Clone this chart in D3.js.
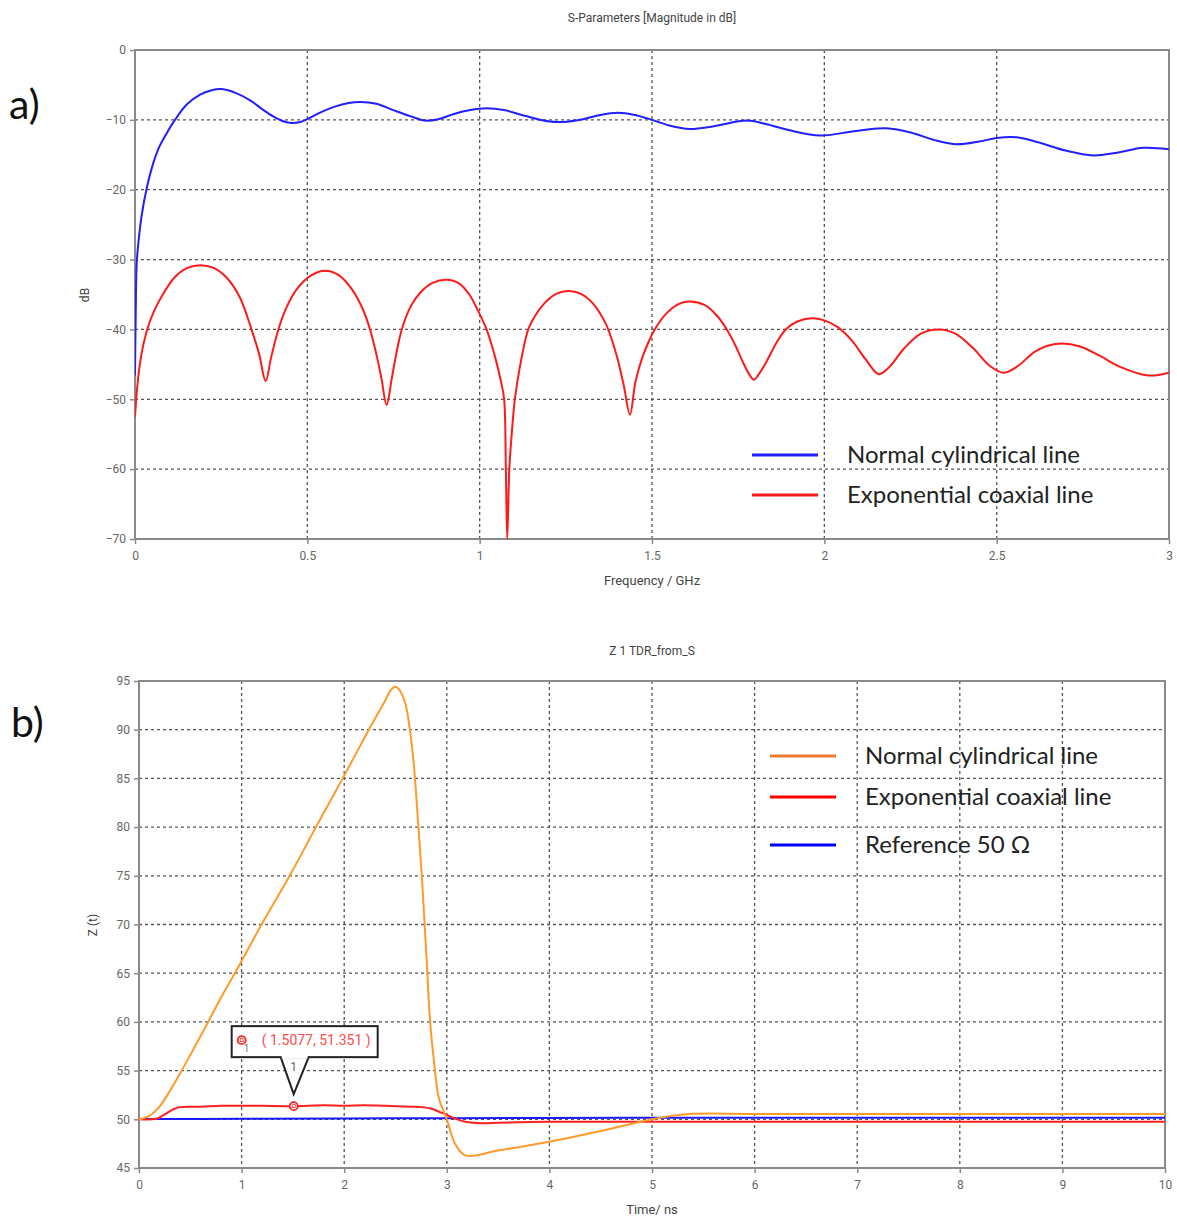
<!DOCTYPE html>
<html>
<head>
<meta charset="utf-8">
<script src="https://cdn.jsdelivr.net/npm/d3@7/dist/d3.min.js"></script>
<style>
  html, body { margin: 0; padding: 0; background: #fff; }
  svg { display: block; }
</style>
</head>
<body>
<svg id="chart" width="1177" height="1218"></svg>
<script>
// ---------------- Data: chart a) S-parameters ----------------
const sFreqTicks = [0, 0.5, 1, 1.5, 2, 2.5, 3];
const sFreqTickLabels = ["0", "0.5", "1", "1.5", "2", "2.5", "3"];
const sDbTicks = [0, -10, -20, -30, -40, -50, -60, -70];

const normalFreq = [0, 0.002, 0.005, 0.01, 0.019, 0.034, 0.053, 0.07, 0.092, 0.116, 0.15, 0.189, 0.22, 0.251, 0.295, 0.334, 0.37, 0.401, 0.43, 0.455, 0.48, 0.5, 0.54, 0.58, 0.62, 0.653, 0.70, 0.749, 0.8, 0.841, 0.88, 0.923, 0.972, 1.02, 1.07, 1.13, 1.204, 1.242, 1.3, 1.35, 1.4, 1.45, 1.5, 1.55, 1.61, 1.68, 1.775, 1.83, 1.9, 1.987, 2.05, 2.12, 2.18, 2.25, 2.32, 2.384, 2.45, 2.5, 2.558, 2.62, 2.7, 2.78, 2.85, 2.925, 3.0];
const normalDb = [-46.6, -38, -30.5, -27.5, -23.8, -19.8, -16.2, -13.9, -11.9, -10.0, -7.8, -6.4, -5.8, -5.6, -6.2, -7.2, -8.5, -9.5, -10.2, -10.45, -10.3, -9.9, -8.9, -8.1, -7.6, -7.45, -7.7, -8.6, -9.5, -10.1, -9.9, -9.2, -8.6, -8.35, -8.6, -9.4, -10.25, -10.3, -9.9, -9.3, -9.0, -9.3, -10.0, -10.8, -11.3, -10.9, -10.1, -10.6, -11.5, -12.25, -11.9, -11.4, -11.2, -11.8, -12.9, -13.5, -13.1, -12.6, -12.5, -13.2, -14.4, -15.1, -14.7, -14.0, -14.2];

const expFreq = [0, 0.006, 0.014, 0.025, 0.04, 0.057, 0.076, 0.114, 0.152, 0.19, 0.228, 0.266, 0.304, 0.338, 0.36, 0.379, 0.395, 0.416, 0.44, 0.47, 0.51, 0.551, 0.59, 0.63, 0.66, 0.682, 0.70, 0.715, 0.730, 0.745, 0.758, 0.774, 0.80, 0.83, 0.865, 0.904, 0.94, 0.97, 0.995, 1.02, 1.045, 1.062, 1.071, 1.076, 1.080, 1.086, 1.093, 1.102, 1.118, 1.139, 1.151, 1.187, 1.222, 1.258, 1.294, 1.329, 1.365, 1.383, 1.40, 1.418, 1.436, 1.452, 1.472, 1.49, 1.508, 1.544, 1.58, 1.61, 1.652, 1.688, 1.717, 1.742, 1.765, 1.783, 1.796, 1.81, 1.83, 1.86, 1.888, 1.92, 1.963, 2.0, 2.04, 2.08, 2.12, 2.158, 2.19, 2.23, 2.28, 2.333, 2.38, 2.43, 2.48, 2.52, 2.56, 2.61, 2.65, 2.69, 2.74, 2.8, 2.86, 2.94, 3.0];
const expDb = [-52.5, -48.5, -45, -42, -39.3, -37.2, -35.4, -32.6, -31.2, -30.8, -31.2, -32.6, -35.4, -40, -43.5, -47.4, -44, -40, -36.8, -34.2, -32.3, -31.6, -32.2, -34.3, -37.0, -40, -43.5, -47, -50.8, -47, -43.5, -40, -36.7, -34.6, -33.3, -32.9, -33.4, -35.0, -37.3, -40, -44, -47.5, -50, -60, -70, -60, -55, -50, -45, -40.3, -38.9, -36.3, -34.9, -34.5, -34.9, -36.3, -39.1, -41.4, -44.2, -48, -52.2, -47.5, -44, -41.8, -40, -37.6, -36.3, -36.0, -36.5, -38.0, -40, -42.3, -44.8, -46.5, -47.2, -46.4, -44.8, -42.0, -40, -38.9, -38.4, -38.7, -39.7, -41.6, -44.3, -46.4, -45.3, -42.8, -40.6, -40, -40.6, -42.6, -45.2, -46.2, -45.3, -43.2, -42.3, -42, -42.4, -43.8, -45.4, -46.6, -46.2];

// ---------------- Data: chart b) TDR impedance ----------------
const tTicks = [0, 1, 2, 3, 4, 5, 6, 7, 8, 9, 10];
const zTicks = [45, 50, 55, 60, 65, 70, 75, 80, 85, 90, 95];

const normalTime = [0, 0.1, 0.2, 0.3, 0.4, 0.5, 0.654, 0.8, 0.945, 1.2, 1.463, 1.72, 1.98, 2.24, 2.40, 2.45, 2.5, 2.55, 2.596, 2.64, 2.677, 2.72, 2.757, 2.8, 2.839, 2.88, 2.92, 3.0, 3.08, 3.18, 3.5, 4.0, 4.5, 5.0, 5.16, 5.37, 6, 7, 8, 9, 10];
const normalZ = [50, 50.35, 51.3, 52.9, 54.7, 56.6, 59.6, 62.5, 65.2, 70.1, 74.9, 79.9, 84.9, 90, 93.0, 94.0, 94.4, 93.9, 92.7, 90, 86.6, 80.5, 74.9, 67, 59.8, 55.5, 52.3, 50, 47.5, 46.3, 46.8, 47.7, 48.8, 50.0, 50.3, 50.55, 50.55, 50.55, 50.55, 50.55, 50.55];

const expTime = [0, 0.17, 0.25, 0.33, 0.395, 0.6, 0.8, 1.0, 1.2, 1.5077, 1.8, 2.0, 2.2, 2.4, 2.66, 2.76, 2.86, 2.93, 3.0, 3.1, 3.18, 3.34, 3.5, 3.73, 4, 6, 8, 10];
const expZ = [50, 50.05, 50.5, 51.0, 51.25, 51.3, 51.4, 51.38, 51.4, 51.351, 51.45, 51.38, 51.45, 51.38, 51.3, 51.25, 51.05, 50.75, 50.45, 50.0, 49.75, 49.6, 49.65, 49.7, 49.75, 49.75, 49.75, 49.75];

const refTime = [0, 1, 2, 3, 4, 5, 6, 7, 8, 9, 10];
const refZ = [50.02, 50.05, 50.08, 50.12, 50.14, 50.15, 50.15, 50.15, 50.15, 50.15, 50.15];

const marker = { t: 1.5077, z: 51.351, label: "( 1.5077, 51.351 )", id: "1" };

const legendA = [
  { name: "Normal cylindrical line", color: "#1f1fff" },
  { name: "Exponential coaxial line", color: "#ff1a1a" }
];
const legendB = [
  { name: "Normal cylindrical line", color: "#ed7d31" },
  { name: "Exponential coaxial line", color: "#ff0000" },
  { name: "Reference 50 \u03A9", color: "#0000ff" }
];

// ---------------- Drawing ----------------
const svg = d3.select("#chart");
const axisColor = "#8a8a8a";
const gridColor = "#555";
const labelColor = "#666";
const tickFont = "Roboto, sans-serif";
const legendFont = "Lato, 'Open Sans', sans-serif";

function drawPanel(cfg) {
  const { left, right, top, bottom, x, y, xTicks, xLabels, yTicks, gridX, gridY, id } = cfg;
  const g = svg.append("g");

  svg.append("clipPath").attr("id", id).append("rect")
    .attr("x", left).attr("y", top).attr("width", right - left).attr("height", bottom - top);

  g.selectAll(".gx").data(gridX).join("line")
    .attr("x1", d => x(d)).attr("x2", d => x(d)).attr("y1", top).attr("y2", bottom)
    .attr("stroke", gridColor).attr("stroke-width", 1.3).attr("stroke-dasharray", "3,3");
  g.selectAll(".gy").data(gridY).join("line")
    .attr("y1", d => y(d)).attr("y2", d => y(d)).attr("x1", left).attr("x2", right)
    .attr("stroke", gridColor).attr("stroke-width", 1.3).attr("stroke-dasharray", "3,3");

  const xAxis = d3.axisBottom(x).tickValues(xTicks).tickSize(5).tickPadding(7)
    .tickFormat((d, i) => xLabels ? xLabels[i] : d);
  const yAxis = d3.axisLeft(y).tickValues(yTicks).tickSize(5).tickPadding(4);
  const gx = g.append("g").attr("transform", `translate(0,${bottom})`).call(xAxis);
  const gy = g.append("g").attr("transform", `translate(${left},0)`).call(yAxis);
  [gx, gy].forEach(a => {
    a.select(".domain").remove();
    a.selectAll(".tick line").attr("stroke", axisColor).attr("stroke-width", 1.5);
    a.selectAll(".tick text").attr("fill", labelColor).style("font-size", "12px")
      .style("font-family", tickFont);
  });

  g.append("rect").attr("x", left).attr("y", top).attr("width", right - left).attr("height", bottom - top)
    .attr("fill", "none").attr("stroke", axisColor).attr("stroke-width", 2);
  return g;
}

// ===== Panel a =====
const A = { left: 135, right: 1169, top: 50, bottom: 539 };
const xA = d3.scaleLinear().domain([0, 3]).range([A.left, A.right]);
const yA = d3.scaleLinear().domain([-70, 0]).range([A.bottom, A.top]);
drawPanel({ ...A, x: xA, y: yA, xTicks: sFreqTicks, xLabels: sFreqTickLabels, yTicks: sDbTicks,
  gridX: [0.5, 1, 1.5, 2, 2.5], gridY: [-10, -20, -30, -40, -50, -60], id: "clipA" });

const lineA = d3.line().x(d => xA(d[0])).y(d => yA(d[1])).curve(d3.curveCatmullRom.alpha(0.5));
const gA = svg.append("g").attr("clip-path", "url(#clipA)");
gA.append("path").datum(d3.zip(expFreq, expDb)).attr("d", lineA)
  .attr("fill", "none").attr("stroke", legendA[1].color).attr("stroke-width", 2);
gA.append("path").datum(d3.zip(normalFreq, normalDb)).attr("d", lineA)
  .attr("fill", "none").attr("stroke", legendA[0].color).attr("stroke-width", 2);

svg.append("text").attr("x", 652).attr("y", 22).attr("text-anchor", "middle")
  .style("font-family", tickFont).style("font-size", "12px").attr("fill", "#444")
  .text("S-Parameters [Magnitude in dB]");
svg.append("text").attr("x", 652).attr("y", 585).attr("text-anchor", "middle")
  .style("font-family", tickFont).style("font-size", "13px").attr("fill", "#444")
  .text("Frequency / GHz");
svg.append("text").attr("transform", "translate(89,295) rotate(-90)").attr("text-anchor", "middle")
  .style("font-family", tickFont).style("font-size", "12px").attr("fill", "#444").text("dB");

legendA.forEach((d, i) => {
  const yy = 455 + i * 40;
  svg.append("line").attr("x1", 752).attr("x2", 818).attr("y1", yy).attr("y2", yy)
    .attr("stroke", d.color).attr("stroke-width", 3);
  svg.append("text").attr("x", 847).attr("y", yy + 8).style("font-family", legendFont)
    .style("font-size", "24px").attr("fill", "#222").text(d.name);
});

svg.append("text").attr("x", 9).attr("y", 119).style("font-family", legendFont)
  .style("font-size", "41px").attr("fill", "#111").text("a)");

// ===== Panel b =====
const B = { left: 139, right: 1165, top: 681, bottom: 1168 };
const xB = d3.scaleLinear().domain([0, 10]).range([B.left, B.right]);
const yB = d3.scaleLinear().domain([45, 95]).range([B.bottom, B.top]);
drawPanel({ ...B, x: xB, y: yB, xTicks: tTicks, xLabels: null, yTicks: zTicks,
  gridX: [1, 2, 3, 4, 5, 6, 7, 8, 9], gridY: [50, 55, 60, 65, 70, 75, 80, 85, 90], id: "clipB" });

const lineB = d3.line().x(d => xB(d[0])).y(d => yB(d[1])).curve(d3.curveCatmullRom.alpha(0.5));
const gB = svg.append("g").attr("clip-path", "url(#clipB)");
gB.append("path").datum(d3.zip(refTime, refZ)).attr("d", lineB)
  .attr("fill", "none").attr("stroke", "#1a1aff").attr("stroke-width", 2);
gB.append("path").datum(d3.zip(expTime, expZ)).attr("d", lineB)
  .attr("fill", "none").attr("stroke", "#ff2020").attr("stroke-width", 2);
gB.append("path").datum(d3.zip(normalTime, normalZ)).attr("d", lineB)
  .attr("fill", "none").attr("stroke", "#ff9a2a").attr("stroke-width", 2);

svg.append("text").attr("x", 652).attr("y", 655).attr("text-anchor", "middle")
  .style("font-family", tickFont).style("font-size", "12px").attr("fill", "#444")
  .text("Z 1 TDR_from_S");
svg.append("text").attr("x", 652).attr("y", 1214).attr("text-anchor", "middle")
  .style("font-family", tickFont).style("font-size", "13px").attr("fill", "#444")
  .text("Time/ ns");
svg.append("text").attr("transform", "translate(97,925) rotate(-90)").attr("text-anchor", "middle")
  .style("font-family", tickFont).style("font-size", "12px").attr("fill", "#444").text("Z (t)");

legendB.forEach((d, i) => {
  const yy = [756, 797, 845][i];
  svg.append("line").attr("x1", 770).attr("x2", 836).attr("y1", yy).attr("y2", yy)
    .attr("stroke", d.color).attr("stroke-width", 3);
  svg.append("text").attr("x", 865).attr("y", yy + 8).style("font-family", legendFont)
    .style("font-size", "24px").attr("fill", "#222").text(d.name);
});

svg.append("text").attr("x", 11).attr("y", 737).style("font-family", legendFont)
  .style("font-size", "41px").attr("fill", "#111").text("b)");

// ----- marker annotation -----
const mx = xB(marker.t), my = yB(marker.z);
const ann = svg.append("g");
const tipY = my - 12;
const boxL = mx - 62, boxR = mx + 84, boxT = my - 80, boxB = my - 49;
ann.append("path")
  .attr("d", `M${mx - 13},${boxB} L${mx},${tipY} L${mx + 15},${boxB}`)
  .attr("fill", "#fff").attr("stroke", "#222").attr("stroke-width", 2);
ann.append("rect").attr("x", boxL).attr("y", boxT).attr("width", boxR - boxL).attr("height", boxB - boxT)
  .attr("fill", "#fff").attr("stroke", "#222").attr("stroke-width", 2);
ann.append("line").attr("x1", mx - 12).attr("x2", mx + 14).attr("y1", boxB).attr("y2", boxB)
  .attr("stroke", "#fff").attr("stroke-width", 2.5);
ann.append("text").attr("x", mx).attr("y", boxB + 14).attr("text-anchor", "middle")
  .style("font-family", tickFont).style("font-size", "12px").attr("fill", "#666").text(marker.id);
ann.append("circle").attr("cx", boxL + 10).attr("cy", boxT + 14).attr("r", 4)
  .attr("fill", "none").attr("stroke", "#ff2020").attr("stroke-width", 1.8);
ann.append("rect").attr("x", boxL + 8.5).attr("y", boxT + 12.5).attr("width", 3).attr("height", 3)
  .attr("fill", "none").attr("stroke", "#ff2020").attr("stroke-width", 0.8);
ann.append("text").attr("x", boxL + 12).attr("y", boxT + 26).style("font-family", tickFont)
  .style("font-size", "10px").attr("fill", "#777").text(marker.id);
ann.append("text").attr("x", boxL + 30).attr("y", boxT + 19).style("font-family", tickFont)
  .style("font-size", "14px").attr("fill", "#ff4b4b").text(marker.label);
ann.append("circle").attr("cx", mx).attr("cy", my).attr("r", 4)
  .attr("fill", "#fff").attr("stroke", "#ff2020").attr("stroke-width", 1.8);
ann.append("rect").attr("x", mx - 1.5).attr("y", my - 1.5).attr("width", 3).attr("height", 3)
  .attr("fill", "none").attr("stroke", "#ff2020").attr("stroke-width", 0.8);
</script>
</body>
</html>
